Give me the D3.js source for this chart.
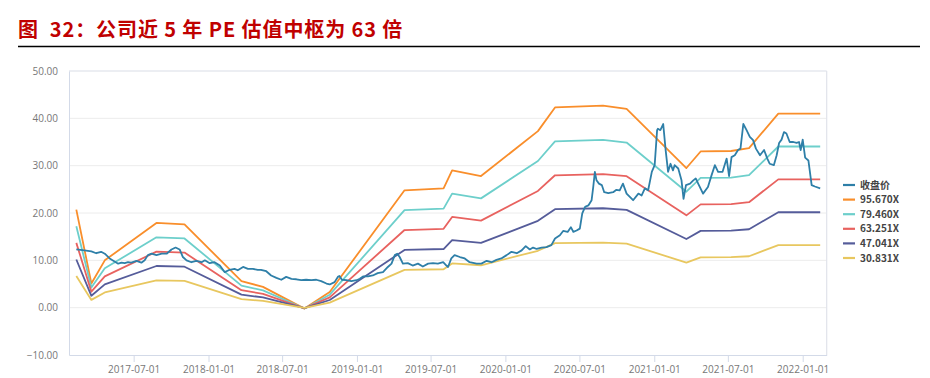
<!DOCTYPE html>
<html><head><meta charset="utf-8">
<script src="https://cdn.jsdelivr.net/npm/d3@7"></script>
<style>
html,body{margin:0;padding:0;background:#fff;}
svg{display:block;}
</style></head>
<body>
<svg id="c" width="930" height="378"></svg>
<script>
// ---------- DATA ----------
const titleText = "图  32：公司近 5 年 PE 估值中枢为 63 倍";
const yTicks = [-10, 0, 10, 20, 30, 40, 50];
const xTickLabels = ["2017-07-01","2018-01-01","2018-07-01","2019-01-01","2019-07-01","2020-01-01","2020-07-01","2021-01-01","2021-07-01","2022-01-01"];
const seriesNames = ["收盘价","95.670X","79.460X","63.251X","47.041X","30.831X"];

const priceDates = ["2017-02-10","2017-03-02","2017-03-19","2017-03-31","2017-04-12","2017-04-21","2017-05-03","2017-05-24","2017-06-01","2017-06-09","2017-06-17","2017-06-25","2017-07-08","2017-07-20","2017-07-28","2017-08-05","2017-08-14","2017-08-26","2017-09-08","2017-09-20","2017-10-02","2017-10-12","2017-10-22","2017-10-30","2017-11-08","2017-11-20","2017-12-02","2017-12-15","2017-12-23","2018-01-04","2018-01-16","2018-01-29","2018-02-10","2018-02-22","2018-03-06","2018-03-14","2018-03-27","2018-04-08","2018-04-20","2018-05-02","2018-05-10","2018-05-23","2018-06-04","2018-06-17","2018-06-29","2018-07-11","2018-07-24","2018-08-05","2018-08-17","2018-08-29","2018-09-11","2018-09-23","2018-10-05","2018-10-18","2018-10-26","2018-11-07","2018-11-15","2018-11-19","2018-11-25","2018-12-06","2018-12-18","2018-12-31","2019-01-08","2019-01-16","2019-01-28","2019-02-09","2019-02-21","2019-03-06","2019-03-18","2019-03-27","2019-04-04","2019-04-10","2019-04-16","2019-04-24","2019-05-06","2019-05-18","2019-05-31","2019-06-12","2019-06-25","2019-07-07","2019-07-19","2019-08-01","2019-08-09","2019-08-13","2019-08-21","2019-08-29","2019-09-11","2019-09-23","2019-10-05","2019-10-22","2019-11-03","2019-11-16","2019-11-28","2019-12-10","2019-12-22","2020-01-04","2020-01-16","2020-01-29","2020-02-10","2020-02-20","2020-03-01","2020-03-09","2020-03-18","2020-03-30","2020-04-11","2020-04-23","2020-05-02","2020-05-14","2020-05-22","2020-06-02","2020-06-10","2020-06-16","2020-06-24","2020-07-02","2020-07-08","2020-07-15","2020-07-23","2020-07-31","2020-08-04","2020-08-08","2020-08-12","2020-08-18","2020-08-25","2020-08-31","2020-09-10","2020-09-22","2020-09-30","2020-10-08","2020-10-16","2020-10-25","2020-11-02","2020-11-10","2020-11-23","2020-12-01","2020-12-09","2020-12-17","2020-12-26","2021-01-02","2021-01-08","2021-01-10","2021-01-16","2021-01-23","2021-01-29","2021-02-04","2021-02-10","2021-02-16","2021-02-20","2021-03-01","2021-03-09","2021-03-14","2021-03-20","2021-03-30","2021-04-07","2021-04-13","2021-04-19","2021-05-01","2021-05-13","2021-05-22","2021-05-30","2021-06-07","2021-06-18","2021-06-28","2021-07-04","2021-07-10","2021-07-18","2021-07-26","2021-08-01","2021-08-08","2021-08-16","2021-08-24","2021-09-01","2021-09-08","2021-09-18","2021-09-28","2021-10-06","2021-10-12","2021-10-22","2021-10-29","2021-11-04","2021-11-10","2021-11-16","2021-11-22","2021-11-30","2021-12-09","2021-12-17","2021-12-23","2021-12-27","2022-01-01","2022-01-07","2022-01-15","2022-01-23","2022-01-31","2022-02-13"];
const priceValues = [12.3,12.1,11.9,11.5,11.8,11.4,10.4,9.3,9.5,9.4,9.6,9.5,9.9,9.5,10.0,11.1,11.4,11.1,11.4,11.4,12.3,12.7,12.3,10.7,10.0,9.6,9.9,9.6,10.0,9.4,9.6,8.9,7.5,8.0,8.2,7.9,8.6,8.2,8.2,8.0,8.0,7.7,6.8,6.3,5.9,6.5,6.1,6.0,5.8,5.9,5.8,5.9,5.6,5.1,4.9,5.4,6.5,6.7,5.9,5.8,5.6,5.8,6.1,6.6,6.6,6.8,7.3,7.5,8.6,9.3,11.1,11.4,10.7,9.3,9.4,8.9,9.3,8.7,9.3,9.4,9.3,9.6,8.9,8.6,10.4,11.1,10.7,10.4,9.6,9.3,9.3,9.9,9.6,10.1,10.4,11.1,11.8,11.5,12.1,13.0,12.3,12.7,12.4,12.7,12.8,13.2,14.6,15.3,16.2,16.0,17.0,16.0,16.3,16.7,19.9,21.3,21.6,22.7,25.5,28.7,26.9,26.2,25.9,24.4,24.2,24.4,24.9,24.8,26.2,24.1,23.4,22.7,24.1,23.7,25.2,24.8,28.7,30.1,37.5,37.8,37.5,38.8,33.3,28.7,30.4,29.0,30.1,29.4,26.9,23.0,25.9,26.2,26.9,27.3,26.2,24.1,25.5,28.0,30.1,28.7,28.7,31.5,27.8,31.8,32.2,33.3,33.6,38.8,37.5,36.1,35.4,33.6,32.2,33.3,31.5,30.4,30.1,32.2,34.8,35.5,37.1,36.8,35.0,35.0,34.8,35.0,33.3,35.5,31.7,31.1,25.9,25.6,25.2];

const bandDates = ["2017-02-10","2017-03-19","2017-04-21","2017-08-26","2017-11-03","2018-03-23","2018-05-15","2018-08-25","2018-10-26","2019-04-28","2019-08-02","2019-08-23","2019-11-02","2020-03-21","2020-05-02","2020-08-28","2020-10-25","2021-03-21","2021-04-25","2021-07-09","2021-08-22","2021-11-02","2022-02-13"];
const pe95 = [20.7,5.1,10.0,17.9,17.6,5.6,4.4,-0.2,3.3,24.8,25.2,29.0,27.8,37.3,42.3,42.7,42.0,29.5,33.0,33.1,33.7,41.0,41.0];
const pe79 = [17.19,4.24,8.31,14.87,14.62,4.65,3.65,-0.17,2.74,20.60,20.93,24.09,23.09,30.98,35.13,35.47,34.88,24.50,27.41,27.49,27.99,34.05,34.05];
const pe63 = [13.69,3.37,6.61,11.83,11.64,3.70,2.91,-0.13,2.18,16.40,16.66,19.17,18.38,24.66,27.97,28.23,27.77,19.50,21.82,21.88,22.28,27.11,27.11];
const pe47 = [10.18,2.51,4.92,8.80,8.65,2.75,2.16,-0.10,1.62,12.19,12.39,14.26,13.67,18.34,20.80,21.00,20.65,14.51,16.23,16.28,16.57,20.16,20.16];
const pe30 = [6.67,1.64,3.22,5.77,5.67,1.80,1.42,-0.06,1.06,7.99,8.12,9.35,8.96,12.02,13.63,13.76,13.54,9.51,10.63,10.67,10.86,13.21,13.21];

// ---------- CHART ----------
const colors = ["#2e7fa8","#f98e2b","#6dcfcb","#e8625f","#555c9a","#e8c75f"];
const svg = d3.select("#c");
const parse = d3.timeParse("%Y-%m-%d");

svg.append("text").attr("x", 18).attr("y", 37)
  .attr("xml:space", "preserve").style("white-space", "pre")
  .attr("font-family", "'Noto Sans CJK SC','Noto Sans',sans-serif")
  .attr("font-size", 20).attr("font-weight", "bold").attr("fill", "#c00000")
  .attr("letter-spacing", 0.9)
  .text(titleText);
svg.append("line").attr("x1", 18).attr("x2", 920).attr("y1", 46.5).attr("y2", 46.5)
  .attr("stroke", "#000").attr("stroke-width", 1.6);

const L = 69, R = 826.7, T = 71, B = 355;
const x = d3.scaleTime().domain([parse("2017-01-23"), parse("2022-03-01")]).range([L, R]);
const y = d3.scaleLinear().domain([-10, 50]).range([B, T]);

const font = "'Open Sans','Noto Sans',sans-serif";

// gridlines
const grid = svg.append("g");
grid.selectAll("line").data(yTicks.filter(d => d > -10)).join("line")
  .attr("x1", L).attr("x2", R).attr("y1", d => y(d)).attr("y2", d => y(d))
  .attr("stroke", d => d === 50 ? "#d9dde6" : "#ececec").attr("stroke-width", 1);

// y axis
const yAxis = svg.append("g").attr("transform", `translate(${L},0)`)
  .call(d3.axisLeft(y).tickValues(yTicks).tickFormat(d3.format(".2f")).tickSize(0).tickPadding(11));
yAxis.select(".domain").attr("stroke", "#d3dae8");
yAxis.selectAll("text").attr("font-family", font).attr("font-size", 10).attr("fill", "#777");

// x axis
const xAxis = svg.append("g").attr("transform", `translate(0,${B})`)
  .call(d3.axisBottom(x).tickValues(xTickLabels.map(parse)).tickFormat(d3.timeFormat("%Y-%m-%d")).tickSize(7).tickSizeOuter(0).tickPadding(4));
xAxis.select(".domain").attr("stroke", "#d3dae8");
xAxis.selectAll(".tick line").attr("stroke", "#d3dae8");
xAxis.selectAll("text").attr("font-family", font).attr("font-size", 10).attr("fill", "#777");

// right border
svg.append("line").attr("x1", R).attr("x2", R).attr("y1", T).attr("y2", B)
  .attr("stroke", "#e0e3ea").attr("stroke-width", 1.2);

const line = d3.line().x(d => x(d[0])).y(d => y(d[1]));
const bands = [pe95, pe79, pe63, pe47, pe30];
const bd = bandDates.map(parse);
bands.forEach((vals, i) => {
  svg.append("path").datum(vals.map((v, j) => [bd[j], v]))
    .attr("d", line).attr("fill", "none").attr("stroke", colors[i + 1])
    .attr("stroke-width", 1.8).attr("stroke-linejoin", "round");
});
const pd = priceDates.map(parse);
svg.append("path").datum(priceValues.map((v, j) => [pd[j], v]))
  .attr("d", line).attr("fill", "none").attr("stroke", colors[0])
  .attr("stroke-width", 1.8).attr("stroke-linejoin", "round");

// legend
const lg = svg.append("g");
seriesNames.forEach((n, i) => {
  const yy = 185 + i * 14.6;
  lg.append("line").attr("x1", 843).attr("x2", 855).attr("y1", yy).attr("y2", yy)
    .attr("stroke", colors[i]).attr("stroke-width", 2.2);
  lg.append("text").attr("x", 860).attr("y", yy + 3.6)
    .attr("font-family", "'Noto Sans CJK SC','Open Sans',sans-serif")
    .attr("font-size", 10).attr("font-weight", "bold").attr("fill", "#444").text(n);
});
</script>
</body></html>
